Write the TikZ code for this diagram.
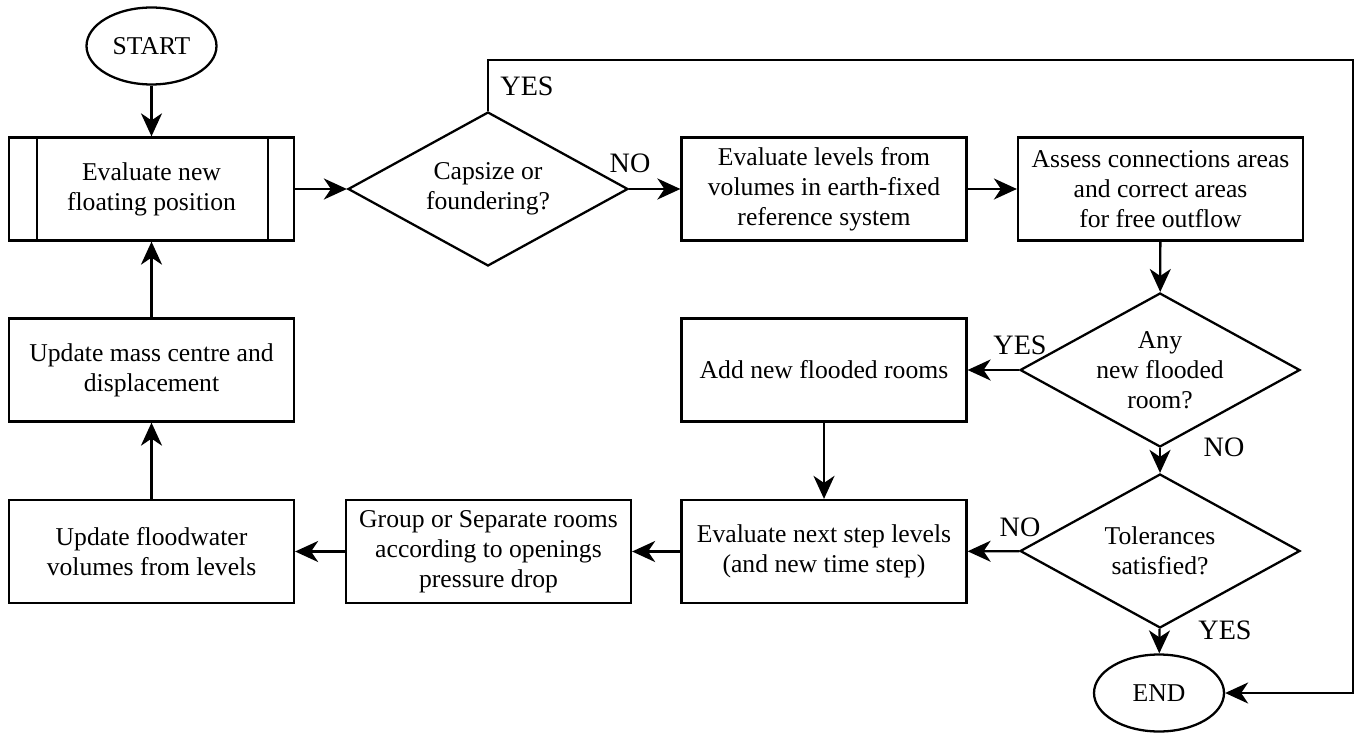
\documentclass[tikz,border=0pt]{standalone}
\usepackage{fontspec}
\setmainfont{Liberation Serif}
\usetikzlibrary{shapes.geometric,arrows.meta,positioning}

\begin{document}
\begin{tikzpicture}[
    x=0.02cm, y=-0.02cm,
    every node/.style={font=\fontsize{14.6}{17.2}\selectfont},
    proc/.style={draw, line width=1.3pt, align=center, minimum width=5.7cm, minimum height=2.06cm, inner sep=2pt},
    term/.style={draw, ellipse, line width=1.3pt, minimum width=2.6cm, minimum height=1.54cm},
    dec/.style={draw, diamond, line width=1.3pt, align=center, aspect=1.82, inner sep=0pt, minimum width=5.6cm, minimum height=3.08cm},
    lbl/.style={font=\fontsize{16}{19}\selectfont},
    arr/.style={-{Stealth[length=0.46cm, width=0.42cm, inset=0.14cm]}, line width=1.3pt}
]
    \useasboundingbox (0,0) rectangle (1358,733);

    % Start and first evaluation
    \node[term] (start) at (151.5,46) {START};
    \node[proc] (eval) at (151.5,189) {Evaluate new\\floating position};
    \draw[line width=1.3pt] ([xshift=0.58cm]eval.north west) -- ([xshift=0.58cm]eval.south west);
    \draw[line width=1.3pt] ([xshift=-0.54cm]eval.north east) -- ([xshift=-0.54cm]eval.south east);

    % Top row
    \node[dec] (capsize) at (488,189) {Capsize or\\foundering?};
    \node[proc] (levels) at (824,189) {Evaluate levels from\\volumes in earth-fixed\\reference system};
    \node[proc] (assess) at (1160.5,189) {Assess connections areas\\and correct areas\\for free outflow};

    % Right column
    \node[dec] (anyroom) at (1160,370) {Any\\new flooded\\room?};
    \node[dec] (toler) at (1160,551) {Tolerances\\satisfied?};
    \node[term] (endn) at (1159,693) {END};

    % Middle and bottom rows
    \node[proc] (addrooms) at (824,370) {Add new flooded rooms};
    \node[proc] (nextstep) at (824,551.5) {Evaluate next step levels\\(and new time step)};
    \node[proc] (group) at (488.5,551.5) {Group or Separate rooms\\according to openings\\pressure drop};
    \node[proc] (flood) at (151.5,551.5) {Update floodwater\\volumes from levels};
    \node[proc] (mass) at (151.5,370) {Update mass centre and\\displacement};

    % Branch labels
    \node[lbl] (yes1) at (527,86) {YES};
    \node[lbl] (no1) at (630,163) {NO};
    \node[lbl] (yes2) at (1020,345) {YES};
    \node[lbl] (no2) at (1224,447) {NO};
    \node[lbl] (no3) at (1020,527) {NO};
    \node[lbl] (yes3) at (1225,630) {YES};

    % Connectors
    \coordinate (corner) at (1353,60);
    \draw[arr] (start) -- (eval);
    \draw[arr] (eval) -- (capsize);
    \draw[arr] (capsize) -- (levels);
    \draw[arr] (levels) -- (assess);
    \draw[arr] (assess) -- (anyroom);
    \draw[arr] (anyroom) -- (addrooms);
    \draw[arr] (anyroom) -- (toler);
    \draw[arr] (addrooms) -- (nextstep);
    \draw[arr] (toler) -- (nextstep);
    \draw[arr] (toler) -- (endn);
    \draw[arr] (nextstep) -- (group);
    \draw[arr] (group) -- (flood);
    \draw[arr] (flood) -- (mass);
    \draw[arr] (mass) -- (eval);
    \draw[arr] (capsize.north) |- (corner) |- (endn.east);
\end{tikzpicture}
\end{document}
